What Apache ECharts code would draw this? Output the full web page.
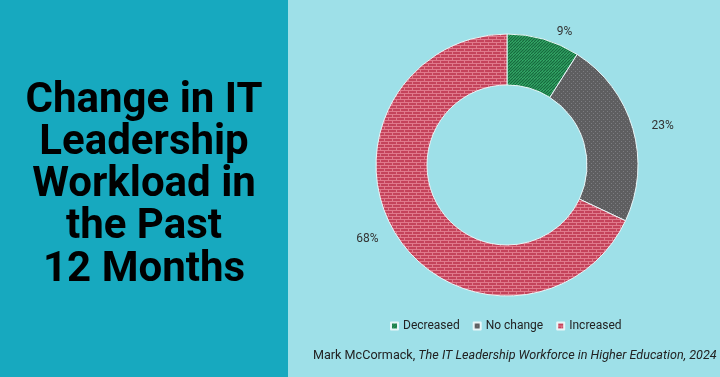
<!DOCTYPE html>
<html>
<head>
<meta charset="utf-8">
<script src="https://cdn.jsdelivr.net/npm/echarts@6/dist/echarts.min.js"></script>
<style>
  html, body { margin: 0; padding: 0; background: #9ee0e8; }
  #chart { width: 720px; height: 377px; }
</style>
</head>
<body>
<div id="chart"></div>
<script>
const categories = ['Decreased', 'No change', 'Increased'];
const shares = [9, 23, 68];
const titleLines = ['Change in IT', 'Leadership', 'Workload in', 'the Past', '12 Months'];

// small tiled patterns, roughly like the office fills
function pattern(kind) {
  let c = document.createElement('canvas');
  let ctx = c.getContext('2d');
  if (kind === 'stripe') {
    c.width = 6; c.height = 6;
    ctx.fillStyle = '#3bb872';
    ctx.fillRect(0, 0, 6, 6);
    ctx.strokeStyle = '#176a3e';
    ctx.lineWidth = 1.3;
    for (let k = -6; k <= 12; k += 3) {
      ctx.beginPath(); ctx.moveTo(k, 6); ctx.lineTo(k + 6, 0); ctx.stroke();
    }
  } else if (kind === 'dots') {
    c.width = 4; c.height = 4;
    ctx.fillStyle = '#5e5e60';
    ctx.fillRect(0, 0, 4, 4);
    ctx.fillStyle = '#7c7c80';
    ctx.fillRect(1, 1, 1, 1);
    ctx.fillRect(3, 3, 1, 1);
  } else {
    c.width = 8; c.height = 6;
    ctx.fillStyle = '#c4435b';
    ctx.fillRect(0, 0, 8, 6);
    ctx.fillStyle = '#e07a8c';
    ctx.fillRect(0, 0, 8, 1);
    ctx.fillRect(0, 3, 8, 1);
    ctx.fillRect(0, 0, 1, 3);
    ctx.fillRect(4, 3, 1, 3);
  }
  return c;
}

const fills = [pattern('stripe'), pattern('dots'), pattern('brick')];

let titleText = titleLines.map((t, i) => ({
  type: 'text',
  x: 144,
  y: 80 + i * 42.3,
  style: {
    text: t,
    textAlign: 'center',
    textVerticalAlign: 'top',
    font: 'bold 42px Roboto, sans-serif',
    fill: '#000'
  }
}));

let chart = echarts.init(document.getElementById('chart'));
chart.setOption({
  backgroundColor: '#9ee0e8',
  animation: false,
  graphic: [
    {
      type: 'rect',
      shape: {x: 0, y: 0, width: 288, height: 377},
      style: {fill: '#17a9bf'},
      z: -1
    },
    ...titleText,
    {
      type: 'text',
      left: 313,
      top: 349,
      style: {
        text: '{a|Mark McCormack, }{b|The IT Leadership Workforce in Higher Education, 2024}',
        rich: {
          a: {font: '12.6px Roboto, sans-serif', fill: '#222'},
          b: {font: 'italic 12.6px Roboto, sans-serif', fill: '#222'}
        }
      }
    }
  ],
  legend: {
    bottom: 40,
    left: 385,
    itemWidth: 7,
    itemHeight: 7,
    itemGap: 13,
    icon: 'rect',
    textStyle: {fontFamily: 'Roboto', fontSize: 12, color: '#222'},
    data: categories
  },
  series: [{
    type: 'pie',
    center: [507, 165],
    radius: [80, 131],
    startAngle: 90,
    clockwise: true,
    itemStyle: {borderColor: '#e8f6f8', borderWidth: 1},
    label: {
      show: true,
      position: 'outside',
      formatter: '{c}%',
      fontFamily: 'Roboto',
      fontSize: 12,
      color: '#333'
    },
    labelLine: {show: false, length: 8, length2: 6},
    data: categories.map((n, i) => ({
      name: n,
      value: shares[i],
      itemStyle: {color: {image: fills[i], repeat: 'repeat'}}
    }))
  }]
});
</script>
</body>
</html>
